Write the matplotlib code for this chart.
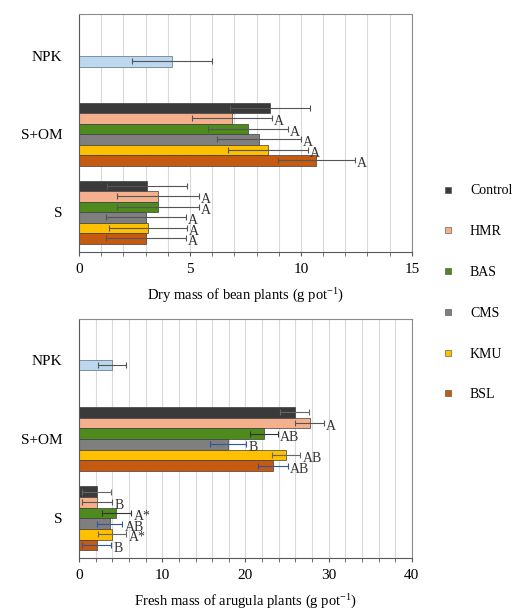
import matplotlib
matplotlib.use("Agg")
import matplotlib.pyplot as plt
from matplotlib.lines import Line2D
from matplotlib.ticker import MultipleLocator

plt.rcParams['font.family'] = ['Liberation Serif', 'DejaVu Serif']
plt.rcParams['mathtext.fontset'] = 'custom'
plt.rcParams['mathtext.rm'] = 'Liberation Serif'
plt.rcParams['mathtext.it'] = 'Liberation Serif:italic'

# ---------------- data ----------------
series = ['Control', 'HMR', 'BAS', 'CMS', 'KMU', 'BSL']
categories = ['S', 'S+OM', 'NPK']

bean_S = [3.05, 3.55, 3.55, 3.0, 3.1, 3.0]
bean_S_err = [1.8, 1.85, 1.85, 1.8, 1.75, 1.8]
bean_SOM = [8.6, 6.9, 7.6, 8.1, 8.5, 10.7]
bean_SOM_err = [1.8, 1.8, 1.8, 1.9, 1.8, 1.75]
bean_NPK = 4.2
bean_NPK_err = 1.8
bean_let_S = ['', 'A', 'A', 'A', 'A', 'A']
bean_let_SOM = ['', 'A', 'A', 'A', 'A', 'A']

aru_S = [2.1, 2.2, 4.5, 3.7, 4.0, 2.1]
aru_S_err = [1.7, 1.8, 1.8, 1.5, 1.7, 1.8]
aru_SOM = [25.9, 27.7, 22.2, 17.9, 24.9, 23.3]
aru_SOM_err = [1.7, 1.7, 1.7, 2.2, 1.7, 1.8]
aru_NPK = 4.0
aru_NPK_err = 1.7
aru_let_S = ['', 'B', 'A*', 'AB', 'A*', 'B']
aru_let_SOM = ['', 'A', 'AB', 'B', 'AB', 'AB']

# ---------------- styles ----------------
colors = ['#3a3a3a', '#f4b08c', '#4e8a1c', '#7f7f7f', '#ffc000', '#c55a11']
npk_color = '#bdd7ee'
bean_errc = ['#555555'] * 6
aru_errc = ['#666666', '#555555', '#333333', '#2f55a4', '#666666', '#2f55a4']

fig = plt.figure(figsize=(5.2, 6.14), dpi=100)
ax1 = fig.add_axes([0.152, 0.5896, 0.640, 0.3876])
ax2 = fig.add_axes([0.152, 0.0912, 0.640, 0.389])

slot = 1 / 7.43


def draw(ax, S, Serr, SOM, SOMerr, NPK, NPKerr, letS, letSOM, errc,
         xmax, major, minor, ylim, xlabel):
    ax.set_axisbelow(True)
    groups = [(S, Serr, letS), (SOM, SOMerr, letSOM)]
    for gi, (vals, errs, lets) in enumerate(groups):
        for si in range(len(series)):
            y = gi + (2.5 - si) * slot
            ax.barh(y, vals[si], height=slot, color=colors[si],
                    edgecolor='#3d3d3d', linewidth=0.5, zorder=2)
            ax.errorbar(vals[si], y, xerr=errs[si], fmt='none',
                        ecolor=errc[si], elinewidth=0.8, capsize=2.5,
                        capthick=0.8, zorder=3)
            if lets[si]:
                ax.annotate(lets[si], (vals[si] + errs[si], y),
                            xytext=(1.5, -2.5), textcoords='offset points',
                            ha='left', va='center', fontsize=10,
                            color='#333333', zorder=4)
    y = 2 + (2.5 - 3) * slot
    ax.barh(y, NPK, height=slot, color=npk_color, edgecolor='#5a6e80',
            linewidth=0.5, zorder=2)
    ax.errorbar(NPK, y, xerr=NPKerr, fmt='none', ecolor='#555555',
                elinewidth=0.8, capsize=2.5, capthick=0.8, zorder=3)

    ax.set_xlim(0, xmax)
    ax.set_ylim(*ylim)
    ax.xaxis.set_major_locator(MultipleLocator(major))
    ax.xaxis.set_minor_locator(MultipleLocator(minor))
    ax.grid(True, axis='x', which='both', color='#d9d9d9', linewidth=0.8)
    ax.set_yticks(range(len(categories)))
    ax.set_yticklabels(categories, fontsize=11)
    ax.tick_params(axis='y', length=0, pad=12)
    ax.tick_params(axis='x', which='both', direction='out', length=3,
                   color='#595959', labelsize=11, pad=5)
    for side in ['top', 'right']:
        ax.spines[side].set_color('#8c8c8c')
    for side in ['left', 'bottom']:
        ax.spines[side].set_color('#595959')
    ax.set_xlabel(xlabel, fontsize=10.5, labelpad=8)


draw(ax1, bean_S, bean_S_err, bean_SOM, bean_SOM_err, bean_NPK, bean_NPK_err,
     bean_let_S, bean_let_SOM, bean_errc, 15, 5, 1, (-0.51, 2.54),
     'Dry mass of bean plants (g pot$^{-1}$)')
draw(ax2, aru_S, aru_S_err, aru_SOM, aru_SOM_err, aru_NPK, aru_NPK_err,
     aru_let_S, aru_let_SOM, aru_errc, 40, 10, 2, (-0.5, 2.51),
     'Fresh mass of arugula plants (g pot$^{-1}$)')

handles = [Line2D([], [], marker='s', ls='', color=c, markersize=5,
                  markeredgecolor='#444444', markeredgewidth=0.4)
           for c in colors]
fig.legend(handles, series, loc='center left', bbox_to_anchor=(0.845, 0.523),
           frameon=False, fontsize=10, labelspacing=2.0, handlelength=1.2,
           handletextpad=1.0, borderpad=0, borderaxespad=0)

fig.savefig('out.png', dpi=100)
